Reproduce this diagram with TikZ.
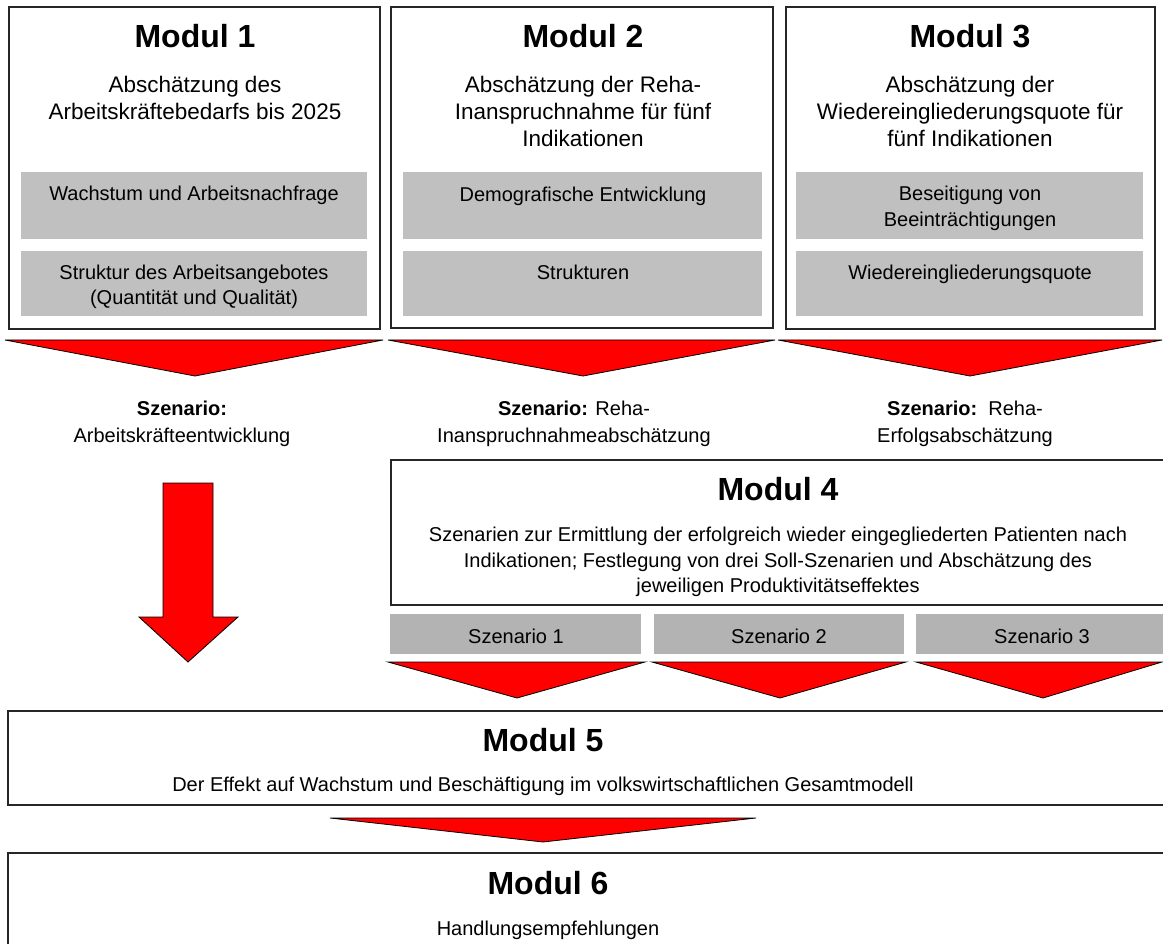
\documentclass[tikz,border=0pt]{standalone}
\usepackage{fontspec}
\setmainfont{Liberation Sans}
\definecolor{hellgrau}{HTML}{C0C0C0}
\definecolor{mittelgrau}{HTML}{B3B3B3}
\begin{document}
\begin{tikzpicture}[x=1pt, y=-1pt,
    modul/.style={draw=black!85, line width=1.3pt, inner sep=0pt, outer sep=0pt, anchor=north west},
    feld/.style={fill=hellgrau, inner sep=0pt, outer sep=0pt, anchor=north west},
    titel/.style={anchor=base, inner sep=0pt, font=\bfseries\fontsize{32}{38}\selectfont},
    unter/.style={anchor=north, inner sep=0pt, align=center, font=\fontsize{22.5}{27}\selectfont},
    klein/.style={anchor=north, inner sep=0pt, align=center, font=\fontsize{20}{24.5}\selectfont},
    pfeil/.style={fill=red, draw=black, line width=0.8pt, line join=miter}]
    \useasboundingbox (0,0) rectangle (1163,944);
    \clip (0,0) rectangle (1163,944);

    \node[modul, minimum width=371pt, minimum height=322pt] (m1) at (9,7) {};
    \node[modul, minimum width=382pt, minimum height=321pt] (m2) at (391,7) {};
    \node[modul, minimum width=369pt, minimum height=322pt] (m3) at (786,7) {};
    \node[titel] (t1) at (195,48) {Modul 1};
    \node[titel] (t2) at (583,48) {Modul 2};
    \node[titel] (t3) at (970,48) {Modul 3};
    \node[unter] (u1) at (195,76) {Abschätzung des\\Arbeitskräftebedarfs bis 2025};
    \node[unter] (u2) at (583,76) {Abschätzung der Reha-\\Inanspruchnahme für fünf\\Indikationen};
    \node[unter] (u3) at (970,76) {Abschätzung der\\Wiedereingliederungsquote für\\fünf Indikationen};

    \node[feld, minimum width=346pt, minimum height=67pt] (g11) at (21,172) {};
    \node[feld, minimum width=346pt, minimum height=65pt] (g12) at (21,251) {};
    \node[feld, minimum width=359pt, minimum height=67pt] (g21) at (403,172) {};
    \node[feld, minimum width=359pt, minimum height=65pt] (g22) at (403,251) {};
    \node[feld, minimum width=347pt, minimum height=67pt] (g31) at (796,172) {};
    \node[feld, minimum width=347pt, minimum height=65pt] (g32) at (796,251) {};
    \node[klein] (k11) at (194,186) {Wachstum und Arbeitsnachfrage};
    \node[klein] (k12) at (194,265) {Struktur des Arbeitsangebotes\\(Quantität und Qualität)};
    \node[klein] (k21) at (583,187) {Demografische Entwicklung};
    \node[klein] (k22) at (583,265) {Strukturen};
    \node[klein, font=\fontsize{20}{26}\selectfont] (k31) at (970,186) {Beseitigung von\\Beeinträchtigungen};
    \node[klein] (k32) at (970,265) {Wiedereingliederungsquote};

    \draw[pfeil] (5,340) -- (383,340) -- (195,376) -- cycle;
    \draw[pfeil] (388,340) -- (775,340) -- (583,376) -- cycle;
    \draw[pfeil] (778,340) -- (1162,340) -- (970,376) -- cycle;

    \node[klein, font=\fontsize{20}{27}\selectfont] (z1) at (182,401) {\textbf{Szenario:}\\Arbeitskräfteentwicklung};
    \node[klein, font=\fontsize{20}{27}\selectfont] (z2) at (574,401) {\textbf{Szenario:} Reha-\\Inanspruchnahmeabschätzung};
    \node[klein, font=\fontsize{20}{27}\selectfont] (z3) at (965,401) {\textbf{Szenario:}\ \ Reha-\\Erfolgsabschätzung};

    \draw[pfeil] (163,483) -- (213,483) -- (213,617) -- (238,617) -- (188,662)
        -- (139,617) -- (163,617) -- cycle;

    \node[modul, minimum width=800pt, minimum height=145pt] (m4) at (391,460) {};
    \node[titel] (t4) at (778,500) {Modul 4};
    \node[klein, font=\fontsize{20}{25.5}\selectfont] (b4) at (778,527) {Szenarien zur Ermittlung der erfolgreich wieder eingegliederten Patienten nach\\Indikationen; Festlegung von drei Soll-Szenarien und Abschätzung des\\jeweiligen Produktivitätseffektes};
    \foreach \i/\x/\w/\m in {1/390/251/516, 2/654/250/779, 3/916/260/1042} {
        \node[feld, fill=mittelgrau, minimum width=\w pt, minimum height=40pt] (s\i) at (\x,614) {};
        \node[klein, anchor=base] (sz\i) at (\m,643) {Szenario \i};
    }
    \draw[pfeil] (388,662) -- (645,662) -- (517,698) -- cycle;
    \draw[pfeil] (652,662) -- (906,662) -- (780,698) -- cycle;
    \draw[pfeil] (916,662) -- (1162,662) -- (1043,698) -- cycle;

    \node[modul, minimum width=1180pt, minimum height=94pt] (m5) at (8,711) {};
    \node[titel] (t5) at (543,751) {Modul 5};
    \node[klein, anchor=base] (b5) at (543,791) {Der Effekt auf Wachstum und Beschäftigung im volkswirtschaftlichen Gesamtmodell};
    \draw[pfeil] (330,818) -- (756,818) -- (543,842) -- cycle;

    \node[modul, minimum width=1180pt, minimum height=120pt] (m6) at (8,853) {};
    \node[titel] (t6) at (548,894) {Modul 6};
    \node[klein, anchor=base] (b6) at (548,935) {Handlungsempfehlungen};
\end{tikzpicture}
\end{document}
